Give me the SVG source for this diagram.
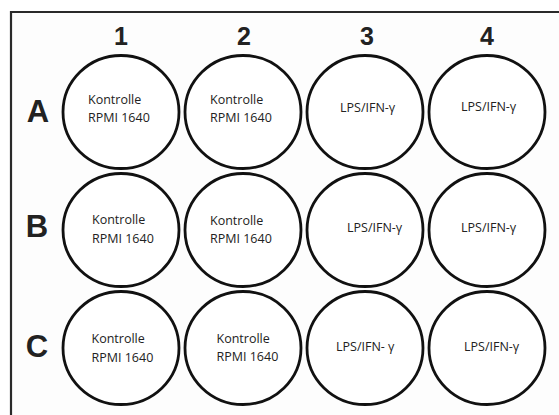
<svg xmlns="http://www.w3.org/2000/svg" width="559" height="415" viewBox="0 0 559 415">
<style>
.frame{fill:none;stroke:#2a2a2a;stroke-width:2.2}
.well{fill:#ffffff;stroke:#111;stroke-width:2.8}
.hdr{font-family:"Liberation Sans",Arial,sans-serif;font-weight:bold;fill:#222;text-anchor:middle}
.col{font-size:25px}
.row{font-size:31px}
.lbl{font-family:"Open Sans","Noto Sans",sans-serif;font-size:12.5px;fill:#222}
</style>
<rect x="0" y="0" width="559" height="415" fill="#ffffff"/>
<rect x="11" y="12" width="548" height="403" fill="#fdfdfd"/>
<path class="frame" d="M11,415 V12 H559"/>
<g id="headers">
<text class="hdr col" x="121" y="45">1</text>
<text class="hdr col" x="244" y="45">2</text>
<text class="hdr col" x="367" y="45">3</text>
<text class="hdr col" x="487" y="45">4</text>
<text class="hdr row" x="38" y="122">A</text>
<text class="hdr row" x="37" y="237">B</text>
<text class="hdr row" x="37" y="357">C</text>
</g>
<g id="A1"><ellipse class="well" cx="121" cy="112" rx="58" ry="56.5"/><text class="lbl" x="88" y="104">Kontrolle</text><text class="lbl" x="88" y="122">RPMI 1640</text></g>
<g id="A2"><ellipse class="well" cx="243" cy="112" rx="58" ry="56.5"/><text class="lbl" x="210" y="104">Kontrolle</text><text class="lbl" x="210" y="122">RPMI 1640</text></g>
<g id="A3"><ellipse class="well" cx="365" cy="112" rx="58" ry="56.5"/><text class="lbl" x="340" y="112">LPS/IFN-γ</text></g>
<g id="A4"><ellipse class="well" cx="487" cy="112" rx="58" ry="56.5"/><text class="lbl" x="461" y="111">LPS/IFN-γ</text></g>
<g id="B1"><ellipse class="well" cx="121" cy="230" rx="58" ry="56.5"/><text class="lbl" x="92" y="224">Kontrolle</text><text class="lbl" x="92" y="243">RPMI 1640</text></g>
<g id="B2"><ellipse class="well" cx="243" cy="230" rx="58" ry="56.5"/><text class="lbl" x="210" y="225">Kontrolle</text><text class="lbl" x="210" y="243">RPMI 1640</text></g>
<g id="B3"><ellipse class="well" cx="365" cy="230" rx="58" ry="56.5"/><text class="lbl" x="347" y="231.5">LPS/IFN-γ</text></g>
<g id="B4"><ellipse class="well" cx="487" cy="230" rx="58" ry="56.5"/><text class="lbl" x="461" y="231.5">LPS/IFN-γ</text></g>
<g id="C1"><ellipse class="well" cx="121" cy="348" rx="58" ry="56.5"/><text class="lbl" x="91.5" y="343">Kontrolle</text><text class="lbl" x="91.5" y="362">RPMI 1640</text></g>
<g id="C2"><ellipse class="well" cx="243" cy="348" rx="58" ry="56.5"/><text class="lbl" x="216.5" y="343">Kontrolle</text><text class="lbl" x="216.5" y="361">RPMI 1640</text></g>
<g id="C3"><ellipse class="well" cx="365" cy="348" rx="58" ry="56.5"/><text class="lbl" x="336" y="350.5">LPS/IFN- γ</text></g>
<g id="C4"><ellipse class="well" cx="487" cy="348" rx="58" ry="56.5"/><text class="lbl" x="464" y="350.5">LPS/IFN-γ</text></g>
<g id="connectors"/>
</svg>
